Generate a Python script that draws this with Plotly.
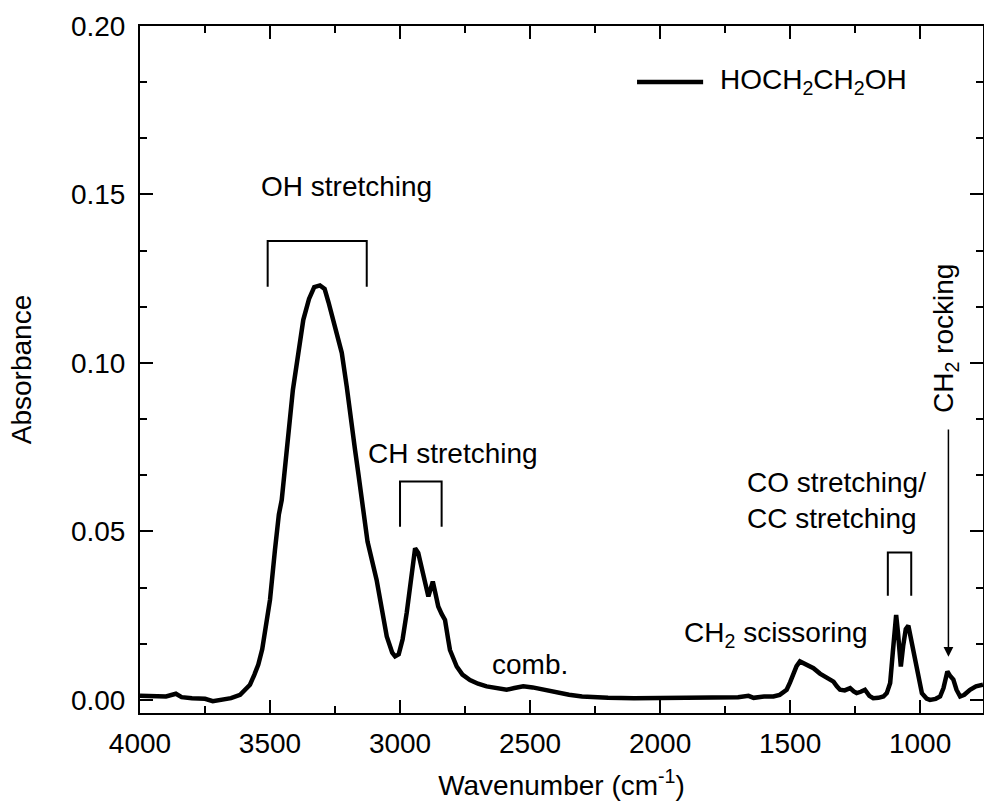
import plotly.graph_objects as go

# ---- data ----
wavenumber = [4000, 3950, 3900, 3862, 3840, 3800, 3750, 3720, 3680, 3650, 3615, 3590, 3577, 3560,
              3545, 3530, 3519, 3500, 3481, 3466, 3455, 3436, 3425, 3412, 3391, 3372, 3350, 3330,
              3308, 3290, 3275, 3256, 3224, 3205, 3186, 3173, 3160, 3147, 3125, 3090, 3051, 3030,
              3019, 3005, 2990, 2974, 2955, 2942, 2930, 2910, 2891, 2882, 2874, 2865, 2853, 2840,
              2827, 2815, 2808, 2782, 2760, 2731, 2700, 2667, 2620, 2590, 2560, 2526, 2490, 2449,
              2400, 2350, 2300, 2250, 2200, 2100, 2000, 1900, 1800, 1700, 1660, 1640, 1600, 1564,
              1540, 1513, 1500, 1487, 1475, 1462, 1450, 1430, 1410, 1385, 1359, 1333, 1320, 1308,
              1290, 1269, 1255, 1244, 1228, 1212, 1195, 1180, 1160, 1141, 1128, 1115, 1105, 1097,
              1092, 1085, 1079, 1074, 1065, 1055, 1045, 1035, 1025, 1019, 1008, 993, 975, 962,
              940, 923, 910, 900, 895, 885, 872, 860, 846, 830, 808, 785, 769, 758]
absorbance = [0.0012, 0.0012, 0.0010, 0.0018, 0.0008, 0.0005, 0.0003, -0.0004, 0.0002, 0.0005,
              0.0015, 0.0035, 0.0045, 0.0075, 0.0105, 0.0150, 0.0198, 0.0297, 0.0445, 0.0550,
              0.0593, 0.0742, 0.0830, 0.0920, 0.1029, 0.1128, 0.1190, 0.1225, 0.1230, 0.1220,
              0.1180, 0.1128, 0.1030, 0.0930, 0.0830, 0.0742, 0.0670, 0.0593, 0.0470, 0.0356,
              0.0188, 0.0140, 0.0129, 0.0135, 0.0180, 0.0260, 0.0376, 0.0450, 0.0436, 0.0366,
              0.0307, 0.0330, 0.0351, 0.0320, 0.0277, 0.0255, 0.0237, 0.0180, 0.0148, 0.0099,
              0.0075, 0.0059, 0.0048, 0.0040, 0.0033, 0.0030, 0.0035, 0.0040, 0.0037, 0.0030,
              0.0022, 0.0015, 0.0010, 0.0007, 0.0006, 0.0005, 0.0005, 0.0006, 0.0007, 0.0008,
              0.0012, 0.0006, 0.0010, 0.0010, 0.0015, 0.0030, 0.0052, 0.0080, 0.0100, 0.0114,
              0.0110, 0.0102, 0.0094, 0.0078, 0.0064, 0.0054, 0.0040, 0.0030, 0.0028, 0.0035,
              0.0025, 0.0020, 0.0024, 0.0030, 0.0012, 0.0005, 0.0006, 0.0010, 0.0020, 0.0050,
              0.0140, 0.0220, 0.0252, 0.0200, 0.0120, 0.0099, 0.0160, 0.0210, 0.0220, 0.0180,
              0.0150, 0.0129, 0.0070, 0.0020, 0.0004, 0.0000, 0.0003, 0.0010, 0.0035, 0.0075,
              0.0084, 0.0072, 0.0060, 0.0030, 0.0010, 0.0015, 0.0030, 0.0040, 0.0045, 0.0045]

x_ticks = [4000, 3500, 3000, 2500, 2000, 1500, 1000]
y_ticks = [0.00, 0.05, 0.10, 0.15, 0.20]

# band brackets: (high wavenumber, low wavenumber, bottom, top)
brackets = [(3509, 3128, 0.1226, 0.1362),
            (3000, 2840, 0.0514, 0.0648),
            (1124, 1034, 0.0309, 0.0437)]

FONT = "Liberation Sans, Arial, sans-serif"
FS = 28

fig = go.Figure()
fig.add_trace(go.Scatter(x=wavenumber, y=absorbance, mode="lines",
                         line=dict(color="black", width=4.5),
                         name="HOCH<sub>2</sub>CH<sub>2</sub>OH", showlegend=False))

for hi, lo, b, t in brackets:
    fig.add_shape(type="path", xref="x", yref="y",
                  path=f"M {hi},{b} L {hi},{t} L {lo},{t} L {lo},{b}",
                  line=dict(color="black", width=2))

# legend sample
fig.add_shape(type="line", xref="paper", yref="paper", x0=0.5896, x1=0.668, y0=0.9185, y1=0.9185,
              line=dict(color="black", width=4.5))
fig.add_annotation(xref="paper", yref="paper", x=0.686, y=0.9185, xanchor="left", yanchor="middle",
                   text="HOCH<sub>2</sub>CH<sub>2</sub>OH", showarrow=False,
                   font=dict(family=FONT, size=FS, color="black"))

def label(x, y, text, **kw):
    fig.add_annotation(x=x, y=y, xref="x", yref="y", text=text, showarrow=False,
                       font=dict(family=FONT, size=FS, color="black"), **kw)

label(3206, 0.1525, "OH stretching")
label(2798, 0.0730, "CH stretching")
label(2500, 0.0104, "comb.")
label(1917, 0.0195, "CH<sub>2</sub> scissoring", xanchor="left")
label(1673, 0.0593, "CO stretching/<br>CC stretching", xanchor="left", align="left")
label(904, 0.1071, "CH<sub>2</sub> rocking", textangle=-90)

# arrow for CH2 rocking
fig.add_annotation(x=891, y=0.0128, ax=891, ay=0.0807, xref="x", yref="y", axref="x", ayref="y",
                   text="", showarrow=True, arrowhead=2, arrowsize=1.3, arrowwidth=1.5,
                   arrowcolor="black")

axis_common = dict(showline=True, linecolor="black", linewidth=2, mirror="ticks",
                   ticks="inside", ticklen=13, tickwidth=2, tickcolor="black",
                   showgrid=False, zeroline=False,
                   tickfont=dict(family=FONT, size=FS, color="black"))

fig.update_xaxes(range=[4000, 758], tickvals=x_ticks, ticktext=[str(v) for v in x_ticks],
                 minor=dict(ticks="inside", ticklen=7, tickwidth=2, dtick=250, tick0=0,
                            tickcolor="black", showgrid=False),
                 title=dict(text="Wavenumber (cm<sup>-1</sup>)", font=dict(family=FONT, size=FS, color="black"),
                            standoff=18),
                 ticklabelstandoff=4, **axis_common)
fig.update_yaxes(range=[-0.0039, 0.20], tickvals=y_ticks, ticktext=[f"{v:.2f}" for v in y_ticks],
                 minor=dict(ticks="inside", ticklen=7, tickwidth=2, dtick=0.05 / 3, tick0=0,
                            tickcolor="black", showgrid=False),
                 title=dict(text="Absorbance", font=dict(family=FONT, size=FS, color="black"),
                            standoff=31),
                 ticklabelstandoff=7, **axis_common)

fig.update_layout(width=984, height=806, margin=dict(l=140, r=1, t=26, b=93, autoexpand=False),
                  plot_bgcolor="white", paper_bgcolor="white",
                  font=dict(family=FONT, size=FS, color="black"))

# remove the browser's default body margin so the figure fills the 984x806 window exactly
fig.write_html("out.html", config={"displayModeBar": False},
               post_script="document.body.style.margin='0';document.body.style.overflow='hidden';")
